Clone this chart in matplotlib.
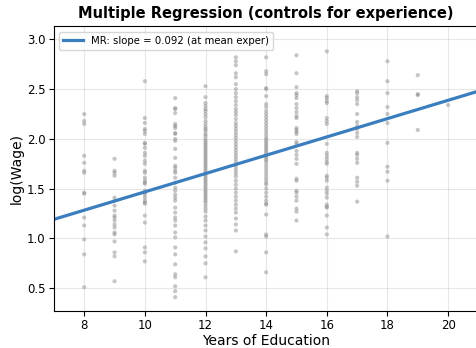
import numpy as np
import matplotlib.pyplot as plt

educ_levels = [8, 9, 10, 11, 12, 13, 14, 15, 16, 17, 18, 19, 20]
lwage_by_educ = {
    8: [2.25, 2.18, 2.15, 1.83, 1.76, 1.68, 1.66, 1.46, 1.45, 1.21, 1.13, 0.99, 0.84, 0.51],
    9: [1.80, 1.68, 1.66, 1.63, 1.41, 1.38, 1.33, 1.28, 1.23, 1.21, 1.18, 1.14, 1.11,
        1.06, 1.04, 0.97, 0.86, 0.82, 0.57],
    10: [2.58, 2.21, 2.16, 2.10, 2.08, 2.05, 1.96, 1.95, 1.91, 1.86, 1.83, 1.78, 1.75,
         1.68, 1.66, 1.61, 1.58, 1.56, 1.55, 1.48, 1.46, 1.44, 1.41, 1.38, 1.36, 1.35,
         1.23, 1.16, 0.91, 0.86, 0.77],
    11: [2.41, 2.31, 2.30, 2.26, 2.15, 2.13, 2.11, 2.06, 2.05, 2.00, 1.98, 1.90, 1.81,
         1.73, 1.71, 1.68, 1.66, 1.61, 1.56, 1.51, 1.48, 1.44, 1.41, 1.38, 1.31, 1.26,
         1.21, 1.18, 1.13, 1.06, 1.01, 0.91, 0.84, 0.74, 0.64, 0.61, 0.52, 0.47, 0.41],
    12: [2.53, 2.42, 2.36, 2.33, 2.30, 2.28, 2.25, 2.22, 2.18, 2.15, 2.12, 2.10, 2.08,
         2.05, 2.03, 2.00, 1.98, 1.96, 1.94, 1.92, 1.90, 1.88, 1.86, 1.84, 1.82, 1.80,
         1.78, 1.76, 1.74, 1.72, 1.70, 1.68, 1.66, 1.64, 1.62, 1.60, 1.58, 1.56, 1.54,
         1.52, 1.50, 1.48, 1.46, 1.44, 1.42, 1.40, 1.38, 1.36, 1.33, 1.30, 1.27, 1.22,
         1.18, 1.13, 1.08, 1.02, 0.96, 0.90, 0.82, 0.75, 0.61],
    13: [2.82, 2.78, 2.74, 2.66, 2.62, 2.55, 2.50, 2.46, 2.42, 2.38, 2.34, 2.30, 2.27,
         2.24, 2.20, 2.16, 2.13, 2.10, 2.07, 2.04, 2.01, 1.98, 1.95, 1.92, 1.89, 1.86,
         1.83, 1.80, 1.77, 1.74, 1.71, 1.68, 1.65, 1.62, 1.58, 1.54, 1.50, 1.46, 1.42,
         1.38, 1.34, 1.30, 1.26, 1.20, 1.14, 1.08, 0.87],
    14: [2.82, 2.68, 2.65, 2.51, 2.50, 2.43, 2.35, 2.32, 2.28, 2.25, 2.22, 2.19, 2.16,
         2.13, 2.10, 2.07, 2.04, 2.01, 1.99, 1.97, 1.95, 1.93, 1.91, 1.89, 1.87, 1.85,
         1.83, 1.81, 1.79, 1.77, 1.74, 1.71, 1.68, 1.65, 1.62, 1.59, 1.56, 1.54, 1.50,
         1.46, 1.42, 1.38, 1.35, 1.34, 1.24, 1.04, 1.02, 0.86, 0.66],
    15: [2.84, 2.66, 2.52, 2.46, 2.44, 2.41, 2.35, 2.31, 2.27, 2.23, 2.21, 2.11, 2.09,
         2.07, 2.05, 1.97, 1.95, 1.88, 1.84, 1.80, 1.75, 1.60, 1.58, 1.48, 1.46, 1.42,
         1.38, 1.30, 1.27, 1.18],
    16: [2.88, 2.43, 2.41, 2.38, 2.36, 2.21, 2.18, 2.15, 1.95, 1.86, 1.83, 1.80, 1.77,
         1.75, 1.63, 1.61, 1.58, 1.51, 1.48, 1.45, 1.41, 1.34, 1.32, 1.31, 1.23, 1.11, 1.04],
    17: [2.48, 2.46, 2.42, 2.39, 2.35, 2.25, 2.17, 2.13, 2.10, 2.06, 2.02, 1.86, 1.84,
         1.80, 1.76, 1.61, 1.57, 1.53, 1.37],
    18: [2.78, 2.58, 2.46, 2.32, 2.25, 2.16, 1.96, 1.72, 1.67, 1.58, 1.02],
    19: [2.64, 2.45, 2.44, 2.09],
    20: [2.34],
}

slope = 0.092
intercept = 0.548   # fitted line evaluated at mean experience

x = []
y = []
for e in educ_levels:
    x += [e] * len(lwage_by_educ[e])
    y += lwage_by_educ[e]

fig = plt.figure(figsize=(4.77, 3.48), dpi=100)
ax = fig.add_axes([0.113, 0.106, 0.89, 0.818])

ax.scatter(x, y, s=9, color='gray', alpha=0.45, edgecolors='none')

xs = np.array([7, 21])
ax.plot(xs, intercept + slope * xs, color='#3a7ebf', linewidth=2.3,
        label='MR: slope = 0.092 (at mean exper)')

ax.set_xlim(7, 21)
ax.set_ylim(0.27, 3.13)
ax.set_xticks([8, 10, 12, 14, 16, 18, 20])
ax.set_yticks([0.5, 1.0, 1.5, 2.0, 2.5, 3.0])
ax.grid(True, alpha=0.3)
ax.set_xlabel('Years of Education', fontsize=10, labelpad=1)
ax.set_ylabel('log(Wage)', fontsize=10, labelpad=2)
ax.set_title('Multiple Regression (controls for experience)', fontsize=10.5, fontweight='bold')
ax.tick_params(labelsize=8.5, pad=2.5)
ax.legend(loc='upper left', fontsize=7.3)

fig.savefig('out.png')
